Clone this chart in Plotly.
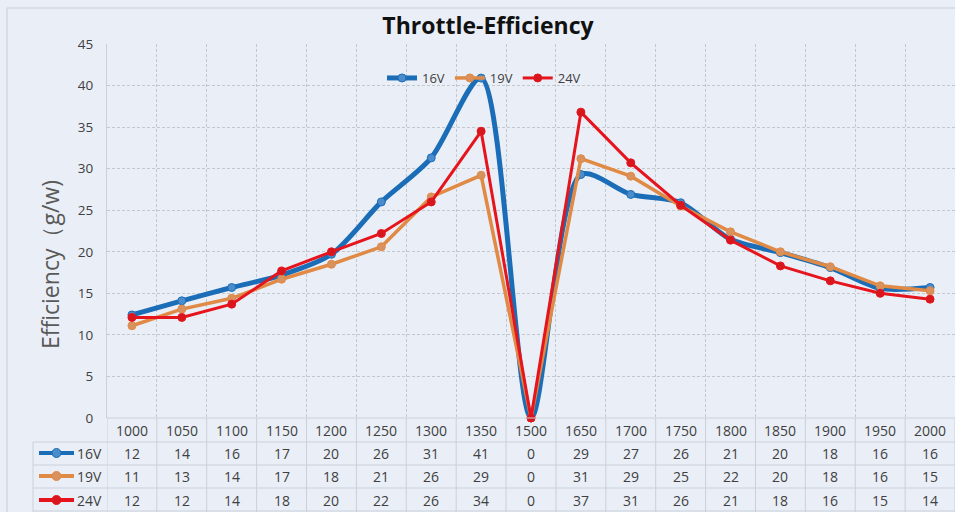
import plotly.graph_objects as go

# ---- data ----
throttle = ["1000", "1050", "1100", "1150", "1200", "1250", "1300", "1350", "1500",
            "1650", "1700", "1750", "1800", "1850", "1900", "1950", "2000"]
eff_16v = [12.4, 14.1, 15.7, 17.2, 19.7, 26.0, 31.3, 40.9, 0.0, 29.3, 26.9, 25.9, 21.5, 19.9, 18.1, 15.6, 15.7]
eff_19v = [11.1, 13.1, 14.4, 16.7, 18.5, 20.6, 26.6, 29.2, 0.0, 31.2, 29.1, 25.5, 22.4, 20.0, 18.2, 15.9, 15.3]
eff_24v = [12.1, 12.1, 13.7, 17.7, 20.0, 22.2, 26.0, 34.5, 0.0, 36.8, 30.7, 25.6, 21.4, 18.3, 16.5, 15.0, 14.3]
table_16v = [12, 14, 16, 17, 20, 26, 31, 41, 0, 29, 27, 26, 21, 20, 18, 16, 16]
table_19v = [11, 13, 14, 17, 18, 21, 26, 29, 0, 31, 29, 25, 22, 20, 18, 16, 15]
table_24v = [12, 12, 14, 18, 20, 22, 26, 34, 0, 37, 31, 26, 21, 18, 16, 15, 14]
series_names = ["16V", "19V", "24V"]
y_ticks = [0, 5, 10, 15, 20, 25, 30, 35, 40, 45]

# ---- layout constants ----
W, H = 955, 512
L, R, T, B = 107, 0, 44, 94
PW, PH = W - L - R, H - T - B
BG = "#eaeff7"
TXT = "#404040"
GRID = "#c3c8cf"
TBL = "#c9d0da"
FONT = "Open Sans"

colors = ["#1a6db6", "#e08a45", "#e6141c"]
mcolors = ["#4a8ccc", "#d9925e", "#d8161e"]
widths = [5, 3.5, 3]
shapes_line = ["spline", "linear", "linear"]
series_vals = [eff_16v, eff_19v, eff_24v]
tables = [table_16v, table_19v, table_24v]


def px(xp):
    return (xp - L) / PW


def py(yp):
    return (H - B - yp) / PH


fig = go.Figure()
for name, vals, c, mc, w, ls in zip(series_names, series_vals, colors, mcolors, widths, shapes_line):
    fig.add_trace(go.Scatter(
        x=throttle, y=vals, name=name, mode="lines+markers",
        line=dict(color=c, width=w, shape=ls, smoothing=0.8),
        marker=dict(size=8, color=mc, line=dict(color=c, width=1)),
        cliponaxis=False,
    ))

shapes = []
annotations = []

# outer chart border
shapes.append(dict(type="rect", xref="paper", yref="paper", x0=px(7), x1=px(W + 20),
                   y0=py(H + 20), y1=py(8), line=dict(color="#c8ccd2", width=1), layer="below"))

# table horizontal lines
for yp in [442, 465, 488, 511]:
    shapes.append(dict(type="line", xref="paper", yref="paper", x0=px(33), x1=1,
                       y0=py(yp), y1=py(yp), line=dict(color=TBL, width=1)))
# x-axis line
shapes.append(dict(type="line", xref="paper", yref="paper", x0=0, x1=1,
                   y0=0, y1=0, line=dict(color=TBL, width=1)))
# table left border
shapes.append(dict(type="line", xref="paper", yref="paper", x0=px(33), x1=px(33),
                   y0=py(442), y1=py(H + 5), line=dict(color=TBL, width=1)))
# table vertical lines at category boundaries
for i in range(len(throttle) + 1):
    shapes.append(dict(type="line", xref="x", yref="paper", x0=i - 0.5, x1=i - 0.5,
                       y0=0, y1=py(H + 5), line=dict(color=TBL, width=1)))

# x labels row
for i, cat in enumerate(throttle):
    annotations.append(dict(x=i, y=py(431), xref="x", yref="paper", text=cat,
                            xanchor="center", yanchor="middle",
                            showarrow=False, font=dict(family=FONT, size=14, color=TXT)))
# data rows
row_y = [453, 476, 500]
for name, tv, c, mc, ry in zip(series_names, tables, colors, mcolors, row_y):
    for i, v in enumerate(tv):
        annotations.append(dict(x=i, y=py(ry), xref="x", yref="paper", text=str(v),
                                xanchor="center", yanchor="middle",
                                showarrow=False, font=dict(family=FONT, size=14, color=TXT)))
    annotations.append(dict(x=px(104), y=py(ry), xref="paper", yref="paper", text=name,
                            xanchor="right", yanchor="middle", showarrow=False,
                            font=dict(family=FONT, size=14, color=TXT)))
    shapes.append(dict(type="line", xref="paper", yref="paper", x0=px(39), x1=px(74),
                       y0=py(ry), y1=py(ry), line=dict(color=c, width=4)))
    shapes.append(dict(type="circle", xref="paper", yref="paper", xsizemode="pixel",
                       ysizemode="pixel", xanchor=px(56.5), yanchor=py(ry),
                       x0=-4.5, x1=4.5, y0=-4.5, y1=4.5,
                       fillcolor=mc, line=dict(color=c, width=1)))

# y-axis title
annotations.append(dict(x=px(50), y=py(265), xref="paper", yref="paper",
                        text="Efficiency（g/w)", textangle=-90, showarrow=False,
                        xanchor="center", yanchor="middle",
                        font=dict(family=FONT, size=23, color="#595959")))

fig.update_layout(
    width=W, height=H,
    margin=dict(l=L, r=R, t=T, b=B, pad=0),
    paper_bgcolor=BG, plot_bgcolor=BG,
    title=dict(text="<b>Throttle-Efficiency</b>", x=(488) / W, xanchor="center",
               y=1 - 26 / H, yanchor="middle",
               font=dict(family=FONT, size=23, color="#111111")),
    showlegend=True,
    legend=dict(orientation="h", x=px(484), xanchor="center", y=py(78), yanchor="middle",
                bgcolor="rgba(0,0,0,0)", font=dict(family=FONT, size=13, color=TXT),
                itemwidth=30, tracegroupgap=0),
    xaxis=dict(type="category", categoryorder="array", categoryarray=throttle,
               range=[-0.5, len(throttle) - 0.5], tickson="boundaries",
               showticklabels=False, ticks="", showgrid=True, gridcolor=GRID,
               griddash="3px,2px", gridwidth=1, showline=False, zeroline=False),
    yaxis=dict(range=[0, 45], tickvals=y_ticks, showgrid=True, gridcolor=GRID,
               griddash="3px,2px", gridwidth=1, zeroline=False, showline=True,
               linecolor=TBL, linewidth=1, ticks="", ticklabelstandoff=10,
               tickfont=dict(family=FONT, size=13.5, color=TXT)),
    shapes=shapes, annotations=annotations,
)

fig.write_html("out.html", config={"displayModeBar": False},
               post_script="document.body.style.margin='0px';"
               "document.body.style.background='" + BG + "';")
